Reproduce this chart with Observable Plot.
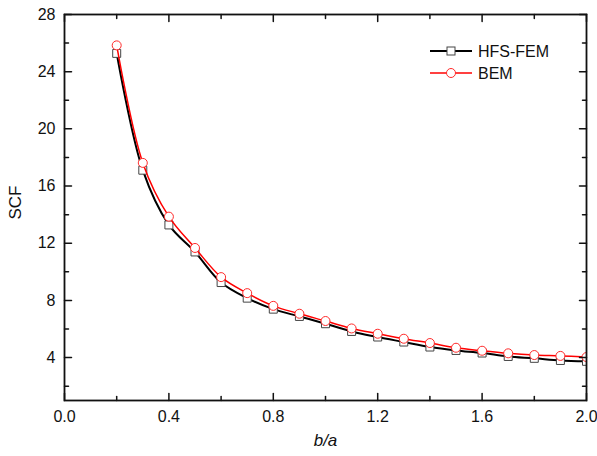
<!DOCTYPE html>
<html>
<head>
<meta charset="utf-8">
<script src="https://cdn.jsdelivr.net/npm/d3@7"></script>
<script src="https://cdn.jsdelivr.net/npm/@observablehq/plot@0.6"></script>
<style>
  body { margin: 0; background: #fff; }
  #wrap { position: relative; width: 597px; height: 456px; font-family: "Liberation Sans", Arial, sans-serif; }
  #legend { position: absolute; left: 0; top: 0; pointer-events: none; }
</style>
</head>
<body>
<div id="wrap"></div>
<script>
const ba = [0.2,0.3,0.4,0.5,0.6,0.7,0.8,0.9,1.0,1.1,1.2,1.3,1.4,1.5,1.6,1.7,1.8,1.9,2.0];
const hfsFem = [25.28,17.11,13.28,11.39,9.25,8.16,7.39,6.88,6.37,5.83,5.44,5.09,4.74,4.50,4.32,4.08,3.95,3.80,3.74];
const bem = [25.84,17.62,13.86,11.67,9.63,8.51,7.62,7.07,6.56,6.04,5.67,5.32,5.02,4.69,4.48,4.30,4.18,4.12,4.04];
const seriesNames = ["HFS-FEM", "BEM"];
const xMajor = [0, 0.4, 0.8, 1.2, 1.6, 2.0];
const xMinor = [0.2, 0.6, 1.0, 1.4, 1.8];
const yMajor = [4, 8, 12, 16, 20, 24, 28];
const yMinor = [2, 6, 10, 14, 18, 22, 26];

const data = ba.map((x, i) => ({x, hfs: hfsFem[i], bem: bem[i]}));

const tickShape = {draw(ctx, l) { ctx.moveTo(0, 0); ctx.lineTo(0, -l); }};
function ticks(values, ch, frameAnchor, rotate, length) {
  return Plot.vector(values, {
    [ch]: d => d, frameAnchor, rotate, length, anchor: "start",
    shape: tickShape, stroke: "#111", strokeWidth: 1.5
  });
}

const chart = Plot.plot({
  width: 597,
  height: 456,
  marginLeft: 64,
  marginRight: 11,
  marginTop: 14,
  marginBottom: 56,
  style: {fontFamily: "Liberation Sans, Arial, sans-serif", fontSize: "16px", color: "#111", background: "white"},
  x: {domain: [0, 2]},
  y: {domain: [1, 28]},
  marks: [
    Plot.line(data, {x: "x", y: "hfs", stroke: "black", strokeWidth: 2, curve: "catmull-rom", clip: true}),
    Plot.dot(data, {x: "x", y: "hfs", symbol: "square", r: 4.5, stroke: "#444", strokeWidth: 1, fill: "white", clip: true}),
    Plot.line(data, {x: "x", y: "bem", stroke: "#ff0000", strokeWidth: 1.5, curve: "catmull-rom", clip: true}),
    Plot.dot(data, {x: "x", y: "bem", symbol: "circle", r: 4.5, stroke: "#ff2a2a", strokeWidth: 1, fill: "white", clip: true}),
    // inward ticks
    ticks(xMajor, "x", "bottom", 0, 7),
    ticks(xMinor, "x", "bottom", 0, 4),
    ticks(xMajor, "x", "top", 180, 7),
    ticks(xMinor, "x", "top", 180, 4),
    ticks(yMajor, "y", "left", 90, 7),
    ticks(yMinor, "y", "left", 90, 4),
    ticks(yMajor, "y", "right", -90, 7),
    ticks(yMinor, "y", "right", -90, 4),
    // tick labels
    Plot.axisX(xMajor, {anchor: "bottom", tickSize: 0, tickPadding: 10, tickFormat: d3.format(".1f"), label: null, fill: "#111"}),
    Plot.axisY(yMajor, {anchor: "left", tickSize: 0, tickPadding: 9, tickFormat: d3.format("d"), label: null, fill: "#111"}),
    Plot.frame({stroke: "#111", strokeWidth: 1.8}),
    Plot.text(["SCF"], {frameAnchor: "left", dx: -49, dy: 12, rotate: -90, fontSize: 17, fill: "#111"}),
    Plot.text(["b/a"], {frameAnchor: "bottom", dy: 45, fontSize: 17, fontStyle: "italic", fill: "#111"})
  ]
});

const wrap = document.getElementById("wrap");
wrap.appendChild(chart);

// Legend overlay
const lg = d3.select(wrap).append("svg").attr("id", "legend").attr("width", 597).attr("height", 456);
const legendItems = [
  {name: seriesNames[0], line: "black", lw: 2, marker: "square", mstroke: "#444", cy: 51},
  {name: seriesNames[1], line: "#ff0000", lw: 1.5, marker: "circle", mstroke: "#ff2a2a", cy: 73}
];
for (const it of legendItems) {
  const g = lg.append("g");
  g.append("line").attr("x1", 430).attr("x2", 472).attr("y1", it.cy).attr("y2", it.cy)
    .attr("stroke", it.line).attr("stroke-width", it.lw);
  if (it.marker === "square") {
    g.append("rect").attr("x", 447).attr("y", it.cy - 4).attr("width", 8).attr("height", 8)
      .attr("fill", "white").attr("stroke", it.mstroke);
  } else {
    g.append("circle").attr("cx", 451).attr("cy", it.cy).attr("r", 4.5)
      .attr("fill", "white").attr("stroke", it.mstroke);
  }
  g.append("text").attr("x", 478).attr("y", it.cy).attr("dy", "0.35em")
    .attr("font-size", 16).attr("fill", "#111")
    .attr("font-family", "Liberation Sans, Arial, sans-serif").text(it.name);
}
</script>
</body>
</html>
